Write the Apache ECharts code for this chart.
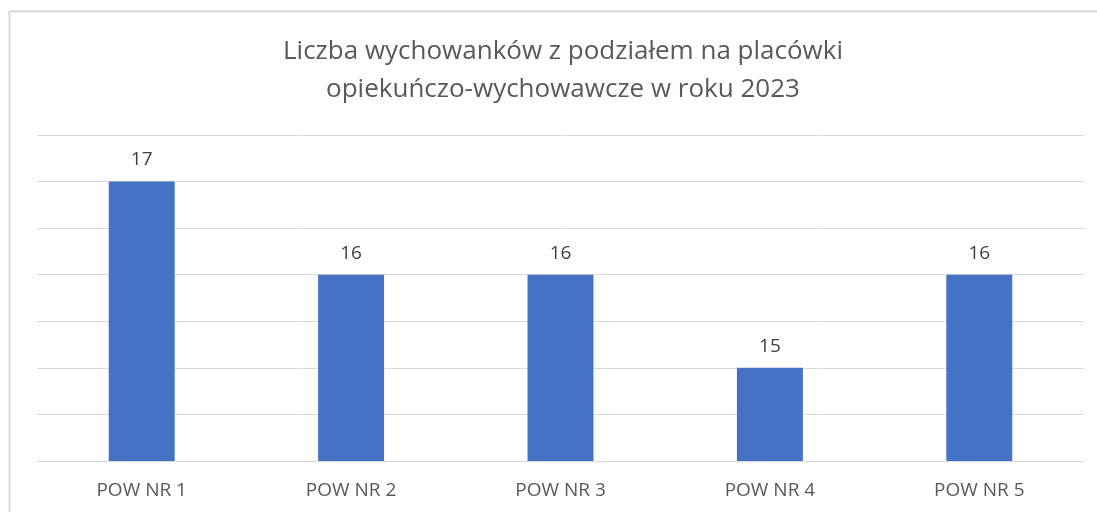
<!DOCTYPE html>
<html>
<head>
<meta charset="utf-8">
<script src="https://cdn.jsdelivr.net/npm/echarts@6/dist/echarts.min.js"></script>
<style>
  html, body { margin: 0; padding: 0; background: #fff; }
  #chart { width: 1097px; height: 512px; }
</style>
</head>
<body>
<div id="chart"></div>
<script>
const categories = ["POW NR 1", "POW NR 2", "POW NR 3", "POW NR 4", "POW NR 5"];
const values = [17, 16, 16, 15, 16];
const titleText = "Liczba wychowanków z podziałem na placówki\nopiekuńczo-wychowawcze w roku 2023";

const chart = echarts.init(document.getElementById("chart"));
chart.setOption({
  animation: false,
  textStyle: { fontFamily: "'Open Sans', 'Noto Sans', sans-serif" },
  graphic: [{
    type: "rect",
    shape: { x: 9.5, y: 11.5, width: 1200, height: 600 },
    style: { fill: "none", stroke: "#d9d9d9", lineWidth: 2 },
    silent: true
  }],
  title: {
    text: titleText,
    left: 558,
    top: 28,
    textAlign: "center",
    textStyle: {
      color: "#595959",
      fontSize: 26,
      fontWeight: "normal",
      lineHeight: 38,
      fontFamily: "'Open Sans', 'Noto Sans', sans-serif"
    }
  },
  grid: { left: 37, right: 13, top: 135, bottom: 51, containLabel: false },
  xAxis: {
    type: "category",
    data: categories,
    axisLine: { show: true, lineStyle: { color: "#d9d9d9", width: 1 } },
    axisTick: { show: false },
    axisLabel: { color: "#595959", fontSize: 19, margin: 20 }
  },
  yAxis: {
    type: "value",
    min: 14,
    max: 17.5,
    interval: 0.5,
    axisLabel: { show: false },
    axisLine: { show: false },
    axisTick: { show: false },
    splitLine: { lineStyle: { color: "#d9d9d9", width: 1 } }
  },
  series: [{
    type: "bar",
    data: values,
    barWidth: "31.5%",
    itemStyle: { color: "#4472C4" },
    label: {
      show: true,
      position: "top",
      distance: 12,
      color: "#404040",
      fontSize: 19
    }
  }]
});
</script>
</body>
</html>
